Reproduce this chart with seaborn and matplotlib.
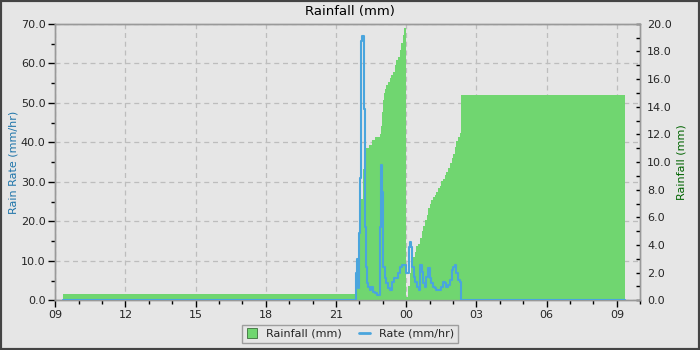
import matplotlib
matplotlib.use("Agg")
import numpy as np
import pandas as pd
import seaborn as sns
import matplotlib.pyplot as plt
import matplotlib.dates as mdates
from matplotlib.lines import Line2D
from matplotlib.patches import Rectangle
from matplotlib.ticker import MultipleLocator, FormatStrFormatter

# ---------------- data ----------------
# cumulative daily rainfall (mm), stepped, resets at midnight
rain_times = ["09:20", "21:50", "21:53", "21:55", "22:00", "22:03", "22:09", "22:13",
              "22:16", "22:24", "22:31", "22:39", "22:52", "22:54", "22:57", "23:00",
              "23:02", "23:05", "23:09", "23:13", "23:17", "23:22", "23:26", "23:30",
              "23:34", "23:39", "23:43", "23:47", "23:51", "23:55", "23:58",
              "00:00", "00:04", "00:09", "00:13", "00:17", "00:22", "00:26", "00:30",
              "00:34", "00:39", "00:43", "00:47", "00:52", "00:56", "01:00", "01:04",
              "01:08", "01:13", "01:17", "01:21", "01:26", "01:30", "01:34", "01:38",
              "01:43", "01:47", "01:51", "01:56", "02:00", "02:04", "02:08", "02:12",
              "02:17", "02:19", "09:20"]
rain_mm = [0.45, 0.8, 2.9, 4.6, 6.0, 7.3, 9.5, 10.4,
           11.0, 11.2, 11.6, 11.8, 12.0, 12.6, 13.6, 14.5,
           15.0, 15.3, 15.6, 15.8, 16.05, 16.3, 16.5, 17.0,
           17.4, 17.6, 18.1, 18.6, 19.2, 19.7, 20.0,
           0.26, 1.0, 1.95, 2.7, 3.15, 3.5, 3.9, 4.1,
           4.5, 5.0, 5.4, 5.8, 6.2, 6.65, 7.0, 7.25,
           7.5, 7.6, 7.85, 8.1, 8.3, 8.6, 8.8, 9.05,
           9.3, 9.55, 9.9, 10.3, 10.6, 11.1, 11.5, 11.8,
           12.1, 14.85, 14.85]

# rain rate (mm/hr)
rate_times = ["09:20", "21:49", "21:50", "21:53", "21:56", "21:59", "22:01", "22:03",
              "22:05", "22:07", "22:11", "22:14", "22:17", "22:20", "22:22", "22:26",
              "22:30", "22:34", "22:39", "22:45", "22:52", "22:54", "22:57", "22:59",
              "23:01", "23:05", "23:09", "23:13", "23:18", "23:23", "23:29", "23:39",
              "23:43", "23:48", "23:58", "00:07", "00:10", "00:13", "00:15", "00:19",
              "00:23", "00:27", "00:32", "00:36", "00:40", "00:43", "00:47", "00:51",
              "00:56", "01:00", "01:04", "01:08", "01:13", "01:17", "01:30", "01:34",
              "01:38", "01:43", "01:47", "01:51", "01:56", "02:00", "02:04", "02:08",
              "02:12", "02:17", "02:19", "09:20"]
rate_mmhr = [0.0, 0.0, 7.0, 10.5, 3.0, 17.0, 31.0, 54.0,
             65.6, 67.0, 48.5, 18.6, 8.5, 4.3, 3.4, 2.6,
             3.4, 2.2, 1.8, 1.3, 18.6, 34.2, 27.4, 13.5,
             8.5, 5.6, 4.3, 3.0, 2.6, 4.7, 5.6, 6.8,
             8.5, 8.9, 6.8, 13.5, 14.8, 13.5, 8.5, 6.0,
             4.7, 3.4, 2.6, 8.9, 7.2, 4.3, 3.4, 6.0,
             8.1, 5.6, 4.3, 3.4, 3.0, 2.6, 3.4, 4.7,
             4.3, 3.4, 3.8, 5.1, 7.7, 8.5, 8.9, 6.8,
             5.1, 4.7, 0.0, 0.0]

x_start, x_end = "09:00", "10:00"
title = "Rainfall (mm)"
left_label = "Rain Rate (mm/hr)"
right_label = "Rainfall (mm)"


def to_datetimes(times, base=pd.Timestamp("2024-01-01")):
    out, day, prev = [], 0, None
    for s in times:
        h, m = map(int, s.split(":"))
        mins = h * 60 + m
        if prev is not None and mins < prev:
            day += 1
        prev = mins
        out.append(base + pd.Timedelta(days=day, minutes=mins))
    return out


rain_df = pd.DataFrame({"time": to_datetimes(rain_times), "rain": rain_mm})
rate_df = pd.DataFrame({"time": to_datetimes(rate_times), "rate": rate_mmhr})
t0 = pd.Timestamp("2024-01-01 " + x_start)
t1 = pd.Timestamp("2024-01-02 " + x_end)

# ---------------- style ----------------
BG = "#e6e6e6"
GREEN = "#70d670"
BLUE = "#4aa5dd"
SPINE = "#999999"

sns.set_theme(style="white", rc={
    "axes.facecolor": BG, "figure.facecolor": BG,
    "axes.edgecolor": SPINE, "axes.linewidth": 1.0,
})
plt.rcParams["font.family"] = ["DejaVu Sans"]

fig = plt.figure(figsize=(7, 3.5), dpi=100)
ax = fig.add_axes([0.079, 0.142, 0.8357, 0.790])
ax2 = ax.twinx()
ax3 = ax.twinx()

# grid on the rate axis (under everything)
ax.set_axisbelow(True)
ax.grid(True, which="major", axis="both", linestyle=(0, (4, 3)), color="#bdbdbd", linewidth=0.9)

# rainfall fill on right axis
ax2.fill_between(rain_df["time"], rain_df["rain"], step="post", color=GREEN, linewidth=0)
ax2.set_ylim(0, 20)

# rate line on top
sns.lineplot(data=rate_df, x="time", y="rate", ax=ax3, color=BLUE, linewidth=1.5,
             drawstyle="steps-post", sort=False, estimator=None)
ax3.set_ylim(0, 70)
ax3.set_axis_off()

ax.set_xlim(t0, t1)
ax.set_ylim(0, 70)

# ticks
ax.xaxis.set_major_locator(mdates.HourLocator(byhour=range(0, 24, 3)))
ax.xaxis.set_minor_locator(mdates.HourLocator())
ax.xaxis.set_major_formatter(mdates.DateFormatter("%H"))
ax.yaxis.set_major_locator(MultipleLocator(10))
ax.yaxis.set_minor_locator(MultipleLocator(5))
ax.yaxis.set_major_formatter(FormatStrFormatter("%.1f"))
ax2.yaxis.set_major_locator(MultipleLocator(2))
ax2.yaxis.set_minor_locator(MultipleLocator(1))
ax2.yaxis.set_major_formatter(FormatStrFormatter("%.1f"))

ax.tick_params(axis="both", which="major", direction="out", length=5, width=1,
               color="black", labelsize=8, pad=2, bottom=True, left=True)
ax.tick_params(axis="both", which="minor", direction="out", length=3, width=1,
               color="black", bottom=True, left=True)
ax2.tick_params(axis="y", which="major", direction="in", length=3, width=1,
                color="black", labelsize=8, pad=5, right=True)
ax2.tick_params(axis="y", which="minor", direction="in", length=3, width=1,
                color="black", right=True)

for a in (ax, ax2):
    for sp in a.spines.values():
        sp.set_color(SPINE)
        sp.set_linewidth(1.0)

ax.set_xlabel("")
ax.set_ylabel(left_label, color="#1f75aa", fontsize=8, labelpad=2)
ax2.set_ylabel(right_label, color="#006400", fontsize=8, labelpad=3)
fig.text(0.5, 0.968, title, ha="center", va="center", fontsize=9.5, color="black")

handles = [
    Line2D([], [], marker="s", linestyle="none", markerfacecolor=GREEN,
           markeredgecolor="#3c6e3c", markeredgewidth=0.6, markersize=6.5),
    Line2D([], [], color=BLUE, linewidth=2),
]
leg = fig.legend(handles, ["Rainfall (mm)", "Rate (mm/hr)"], loc="upper center",
                 bbox_to_anchor=(0.5, 0.072), ncol=2, frameon=True, fancybox=False,
                 fontsize=8, handlelength=1.0, handletextpad=0.8, columnspacing=1.5,
                 borderpad=0.35, borderaxespad=0)
leg.get_frame().set_facecolor(BG)
leg.get_frame().set_edgecolor("#8c8c8c")
leg.get_frame().set_linewidth(1.0)

fig.patches.append(Rectangle((0, 0), 1, 1, transform=fig.transFigure, fill=False,
                             edgecolor="#444444", linewidth=3, zorder=10))

fig.savefig("out.png", dpi=100, facecolor=BG)
